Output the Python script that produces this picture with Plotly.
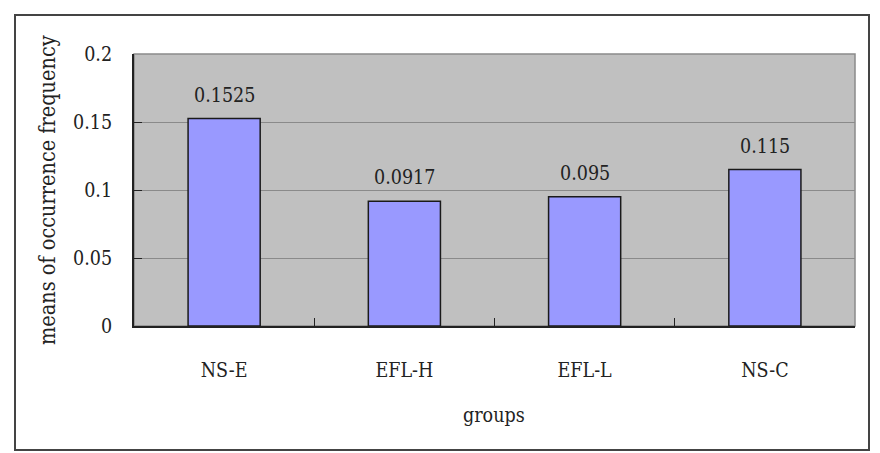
import plotly.graph_objects as go

groups = ["NS-E", "EFL-H", "EFL-L", "NS-C"]
means = [0.1525, 0.0917, 0.095, 0.115]
value_labels = ["0.1525", "0.0917", "0.095", "0.115"]
y_ticks = [0, 0.05, 0.1, 0.15, 0.2]
y_tick_labels = ["0", "0.05", "0.1", "0.15", "0.2"]

FONT = "DejaVu Serif Condensed"
W, H = 880, 453
L, R, T, B = 134, 25, 54, 127
pw, ph = W - L - R, H - T - B

def px_x(x):
    return (x - L) / pw

def px_y(y):
    return (H - B - y) / ph

fig = go.Figure()
fig.add_trace(go.Bar(
    x=groups, y=means,
    marker=dict(color="#9999FF", line=dict(color="#1a1a1a", width=1.5)),
    hoverinfo="skip",
))

annotations = []
for g, v, lab in zip(groups, means, value_labels):
    annotations.append(dict(x=g, y=v, xref="x", yref="y", text=lab, showarrow=False,
                            yanchor="bottom", yshift=10,
                            font=dict(family=FONT, size=19.5, color="#222")))
annotations.append(dict(x=px_x(47), y=px_y(190), xref="paper", yref="paper",
                        xanchor="center", yanchor="middle",
                        text="means of occurrence frequency", textangle=-90, showarrow=False,
                        font=dict(family=FONT, size=21.5, color="#222")))
annotations.append(dict(x=px_x(494), y=px_y(415), xref="paper", yref="paper",
                        xanchor="center", yanchor="middle",
                        text="groups", showarrow=False,
                        font=dict(family=FONT, size=19.5, color="#222")))

shapes = [
    dict(type="rect", xref="paper", yref="paper", x0=px_x(15), x1=px_x(869),
         y0=px_y(450), y1=px_y(15), line=dict(color="#444", width=2), layer="below"),
    dict(type="rect", xref="paper", yref="paper", x0=0, x1=1, y0=0, y1=1,
         line=dict(color="#8a8a8a", width=1.5), layer="below"),
]

fig.update_layout(
    width=W, height=H,
    margin=dict(l=L, r=R, t=T, b=B),
    paper_bgcolor="white", plot_bgcolor="#C0C0C0",
    bargap=0.6, showlegend=False,
    font=dict(family=FONT, size=19.5, color="#222"),
    annotations=annotations, shapes=shapes,
    xaxis=dict(type="category", tickson="boundaries", ticks="inside", ticklen=8,
               tickcolor="#222", showline=True, linecolor="#222", linewidth=2,
               showgrid=False, ticklabelstandoff=26,
               tickfont=dict(family=FONT, size=19.5, color="#222")),
    yaxis=dict(range=[0, 0.2], tickvals=y_ticks, ticktext=y_tick_labels,
               ticks="inside", ticklen=8, tickcolor="#222",
               showline=True, linecolor="#222", linewidth=2,
               showgrid=True, gridcolor="#8a8a8a", gridwidth=1.2,
               zeroline=False, ticklabelstandoff=16,
               tickfont=dict(family=FONT, size=19.5, color="#222")),
)

fig.write_html("out.html")
